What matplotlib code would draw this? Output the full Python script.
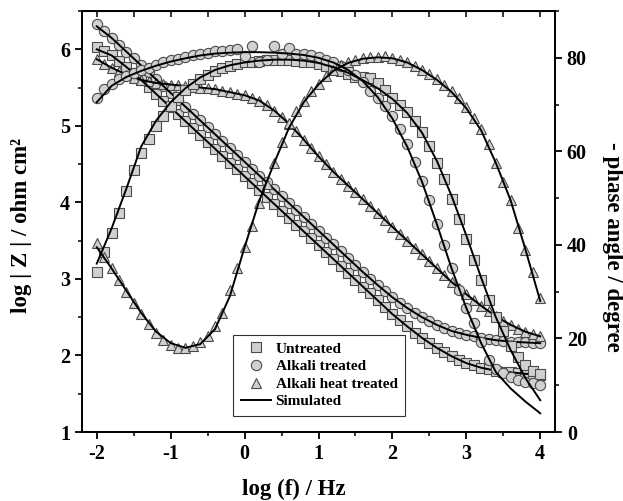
import numpy as np
import matplotlib.pyplot as plt
from matplotlib.ticker import MultipleLocator
from matplotlib.lines import Line2D

plt.rcParams['font.family'] = 'Liberation Serif'
plt.rcParams['font.weight'] = 'bold'
plt.rcParams['axes.labelweight'] = 'bold'
plt.rcParams['axes.unicode_minus'] = False

# measured frequencies, log10(f / Hz)
log_f = [-2.0, -1.9, -1.8, -1.7, -1.6, -1.5, -1.4, -1.3, -1.2, -1.1,
         -1.0, -0.9, -0.8, -0.7, -0.6, -0.5, -0.4, -0.3, -0.2, -0.1,
         0.0, 0.1, 0.2, 0.3, 0.4, 0.5, 0.6, 0.7, 0.8, 0.9,
         1.0, 1.1, 1.2, 1.3, 1.4, 1.5, 1.6, 1.7, 1.8, 1.9,
         2.0, 2.1, 2.2, 2.3, 2.4, 2.5, 2.6, 2.7, 2.8, 2.9,
         3.0, 3.1, 3.2, 3.3, 3.4, 3.5, 3.6, 3.7, 3.8, 3.9, 4.0]

# log |Z| (ohm cm2)
z_untreated = [6.03, 5.98, 5.92, 5.85, 5.77, 5.69, 5.60, 5.51, 5.42, 5.33,
               5.24, 5.15, 5.06, 4.97, 4.88, 4.79, 4.70, 4.61, 4.52, 4.43,
               4.34, 4.25, 4.16, 4.07, 3.98, 3.89, 3.80, 3.71, 3.62, 3.53,
               3.44, 3.35, 3.26, 3.17, 3.08, 2.99, 2.90, 2.81, 2.72, 2.63,
               2.54, 2.46, 2.38, 2.30, 2.23, 2.16, 2.10, 2.04, 1.99, 1.94,
               1.90, 1.87, 1.84, 1.82, 1.80, 1.79, 1.78, 1.77, 1.76, 1.75, 1.75]
z_alkali = [6.33, 6.24, 6.15, 6.06, 5.97, 5.88, 5.79, 5.70, 5.61, 5.52,
            5.43, 5.34, 5.25, 5.16, 5.07, 4.98, 4.89, 4.80, 4.71, 4.62,
            4.53, 4.44, 4.35, 4.26, 4.17, 4.08, 3.99, 3.90, 3.81, 3.72,
            3.63, 3.54, 3.45, 3.36, 3.27, 3.18, 3.09, 3.00, 2.92, 2.84,
            2.76, 2.69, 2.62, 2.56, 2.50, 2.45, 2.40, 2.36, 2.32, 2.29,
            2.27, 2.25, 2.23, 2.21, 2.20, 2.19, 2.18, 2.17, 2.17, 2.16, 2.16]
z_heat = [5.87, 5.81, 5.76, 5.71, 5.67, 5.63, 5.60, 5.58, 5.56, 5.55,
          5.54, 5.53, 5.52, 5.51, 5.50, 5.49, 5.48, 5.46, 5.44, 5.42,
          5.40, 5.37, 5.33, 5.27, 5.20, 5.12, 5.03, 4.93, 4.82, 4.71,
          4.60, 4.50, 4.40, 4.31, 4.22, 4.13, 4.04, 3.95, 3.86, 3.77,
          3.68, 3.59, 3.50, 3.41, 3.32, 3.23, 3.14, 3.05, 2.96, 2.88,
          2.80, 2.72, 2.65, 2.58, 2.51, 2.45, 2.40, 2.35, 2.31, 2.28, 2.25]

# - phase angle (degree)
ph_untreated = [34.2, 38.5, 42.5, 46.8, 51.5, 56.0, 59.6, 62.7, 65.5, 67.6,
                69.7, 71.7, 73.2, 74.4, 75.4, 76.3, 77.2, 77.8, 78.3, 78.7,
                79.0, 79.2, 79.4, 79.5, 79.6, 79.6, 79.5, 79.4, 79.2, 79.0,
                78.6, 78.2, 77.7, 77.1, 76.5, 76.0, 75.8, 75.6, 74.6, 73.2,
                71.5, 70.0, 68.4, 66.5, 64.2, 61.2, 57.6, 54.0, 49.8, 45.5,
                41.3, 36.8, 32.5, 28.3, 24.5, 21.5, 18.3, 16.0, 14.3, 13.1, 12.5]
ph_alkali = [71.5, 73.3, 74.5, 75.4, 76.1, 76.7, 77.3, 77.9, 78.5, 79.0,
             79.5, 79.8, 80.1, 80.5, 80.9, 81.1, 81.4, 81.5, 81.6, 81.9,
             80.3, 82.6, 79.0, 79.6, 82.6, 80.8, 82.2, 80.9, 80.8, 80.5,
             80.1, 79.6, 79.0, 78.2, 77.3, 76.4, 74.8, 73.0, 71.5, 69.6,
             67.5, 64.8, 61.5, 57.8, 53.6, 49.5, 44.5, 40.0, 35.0, 30.3,
             26.5, 23.2, 19.2, 15.5, 13.5, 12.7, 11.8, 11.1, 10.7, 10.4, 10.1]
ph_heat = [40.5, 37.5, 35.0, 32.5, 30.0, 27.6, 25.2, 23.0, 21.1, 19.6,
           18.6, 18.0, 17.9, 18.4, 19.3, 20.6, 22.7, 25.4, 30.3, 35.0,
           39.5, 44.0, 49.0, 53.0, 57.5, 62.0, 66.0, 68.7, 70.7, 72.8,
           74.5, 76.1, 77.4, 78.4, 79.1, 79.6, 79.9, 80.1, 80.2, 80.3,
           80.0, 79.6, 79.0, 78.2, 77.4, 76.5, 75.4, 74.1, 72.8, 71.5,
           69.5, 67.2, 64.7, 61.5, 57.5, 53.5, 49.6, 43.7, 39.0, 34.2, 28.6]

# simulated (fitted) curves
log_f_sim = [-2.0, -1.8, -1.6, -1.4, -1.2, -1.0, -0.8, -0.6, -0.4, -0.2,
             0.0, 0.2, 0.4, 0.6, 0.8, 1.0, 1.2, 1.4, 1.6, 1.8,
             2.0, 2.2, 2.4, 2.6, 2.8, 3.0, 3.2, 3.4, 3.6, 3.8, 4.0]
z_untreated_sim = [6.00, 5.92, 5.77, 5.60, 5.42, 5.24, 5.06, 4.88, 4.70, 4.52,
                   4.34, 4.16, 3.98, 3.80, 3.62, 3.44, 3.26, 3.08, 2.90, 2.72,
                   2.54, 2.38, 2.23, 2.10, 1.99, 1.90, 1.84, 1.80, 1.78, 1.76, 1.75]
z_alkali_sim = [6.30, 6.15, 5.97, 5.79, 5.61, 5.43, 5.25, 5.07, 4.89, 4.71,
                4.53, 4.35, 4.17, 3.99, 3.81, 3.63, 3.45, 3.27, 3.09, 2.92,
                2.76, 2.62, 2.50, 2.40, 2.32, 2.27, 2.23, 2.20, 2.18, 2.17, 2.16]
z_heat_sim = [5.87, 5.76, 5.67, 5.60, 5.56, 5.54, 5.52, 5.50, 5.48, 5.44,
              5.40, 5.33, 5.20, 5.03, 4.82, 4.60, 4.40, 4.22, 4.04, 3.86,
              3.68, 3.50, 3.32, 3.14, 2.96, 2.80, 2.65, 2.51, 2.40, 2.31, 2.25]
ph_untreated_sim = [36.0, 43.5, 52.0, 61.0, 66.5, 70.5, 73.5, 75.8, 77.4, 78.4,
                    79.0, 79.4, 79.6, 79.6, 79.4, 78.9, 78.0, 76.8, 75.2, 73.5,
                    71.2, 68.2, 64.0, 58.0, 50.5, 42.0, 33.0, 24.5, 17.5, 11.5, 6.8]
ph_alkali_sim = [70.5, 74.0, 75.9, 77.2, 78.3, 79.2, 79.9, 80.5, 80.9, 81.1,
                 81.2, 81.2, 81.1, 80.9, 80.6, 80.0, 79.0, 77.4, 75.0, 71.6,
                 67.0, 61.0, 53.5, 44.5, 35.0, 26.5, 19.0, 12.8, 9.3, 6.5, 4.0]
ph_heat_sim = [39.5, 35.0, 30.2, 25.5, 21.5, 19.0, 18.0, 18.8, 22.0, 29.0,
               39.5, 49.5, 57.5, 65.0, 70.5, 74.3, 77.2, 78.9, 79.8, 80.1,
               79.9, 79.0, 77.4, 75.3, 72.7, 69.2, 64.5, 57.5, 49.5, 39.0, 28.0]

labels = ['Untreated', 'Alkali treated', 'Alkali heat treated']
markers = ['s', 'o', '^']
msizes = [6.8, 7.4, 7.6]
mk = dict(ls='none', mfc='#d0d0d0', mec='#4a4a4a', mew=0.8)

fig = plt.figure(figsize=(6.23, 5.01), dpi=100)
ax = fig.add_axes([0.1316, 0.1377, 0.7593, 0.8403])
ax2 = ax.twinx()

z_data = [z_untreated, z_alkali, z_heat]
ph_data = [ph_untreated, ph_alkali, ph_heat]
for z, m, s in zip(z_data, markers, msizes):
    ax.plot(log_f, z, m, ms=s, **mk)
for z in [z_untreated_sim, z_alkali_sim, z_heat_sim]:
    ax.plot(log_f_sim, z, color='black', lw=1.4)
for ph, m, s in zip(ph_data, markers, msizes):
    ax2.plot(log_f, ph, m, ms=s, **mk)
for ph in [ph_untreated_sim, ph_alkali_sim, ph_heat_sim]:
    ax2.plot(log_f_sim, ph, color='black', lw=1.4)

ax.set_xlim(-2.2, 4.2)
ax.set_ylim(1, 6.5)
ax2.set_ylim(0, 90)

ax.xaxis.set_major_locator(MultipleLocator(1))
ax.xaxis.set_minor_locator(MultipleLocator(0.5))
ax.yaxis.set_major_locator(MultipleLocator(1))
ax.yaxis.set_minor_locator(MultipleLocator(0.5))
ax2.yaxis.set_major_locator(MultipleLocator(20))
ax2.yaxis.set_minor_locator(MultipleLocator(10))

for a in (ax, ax2):
    for sp in a.spines.values():
        sp.set_linewidth(1.3)
    a.tick_params(which='major', direction='out', length=5, width=1.3, labelsize=14.5)
    a.tick_params(which='minor', direction='out', length=3, width=1.1)

top = ax.secondary_xaxis('top')
top.xaxis.set_major_locator(MultipleLocator(0.5))
top.tick_params(direction='in', length=4, width=1.1, labeltop=False)

ax.set_xlabel('log (f) / Hz', fontsize=16.5, fontweight='bold', va='top')
ax.xaxis.set_label_coords(0.447, -0.112)
ax.set_ylabel('log | Z | / ohm cm²', fontsize=16.5, fontweight='bold', va='center')
ax.yaxis.set_label_coords(-0.127, 0.49)
ax2.set_ylabel('- phase angle / degree', fontsize=16.5, fontweight='bold',
               rotation=270, va='center')
ax2.yaxis.set_label_coords(1.1205, 0.44)

handles = [Line2D([], [], marker=m, ms=s, **mk) for m, s in zip(markers, msizes)]
handles.append(Line2D([], [], color='black', lw=1.4))
leg = ax2.legend(handles, labels + ['Simulated'], loc='lower left',
                 bbox_to_anchor=(0.319, 0.038), fontsize=11, frameon=True,
                 fancybox=False, framealpha=1, edgecolor='#333333',
                 handlelength=2.0, labelspacing=0.25, borderpad=0.5,
                 handletextpad=0.3, borderaxespad=0)
leg.get_frame().set_linewidth(0.8)

plt.savefig('out.png', dpi=100)
